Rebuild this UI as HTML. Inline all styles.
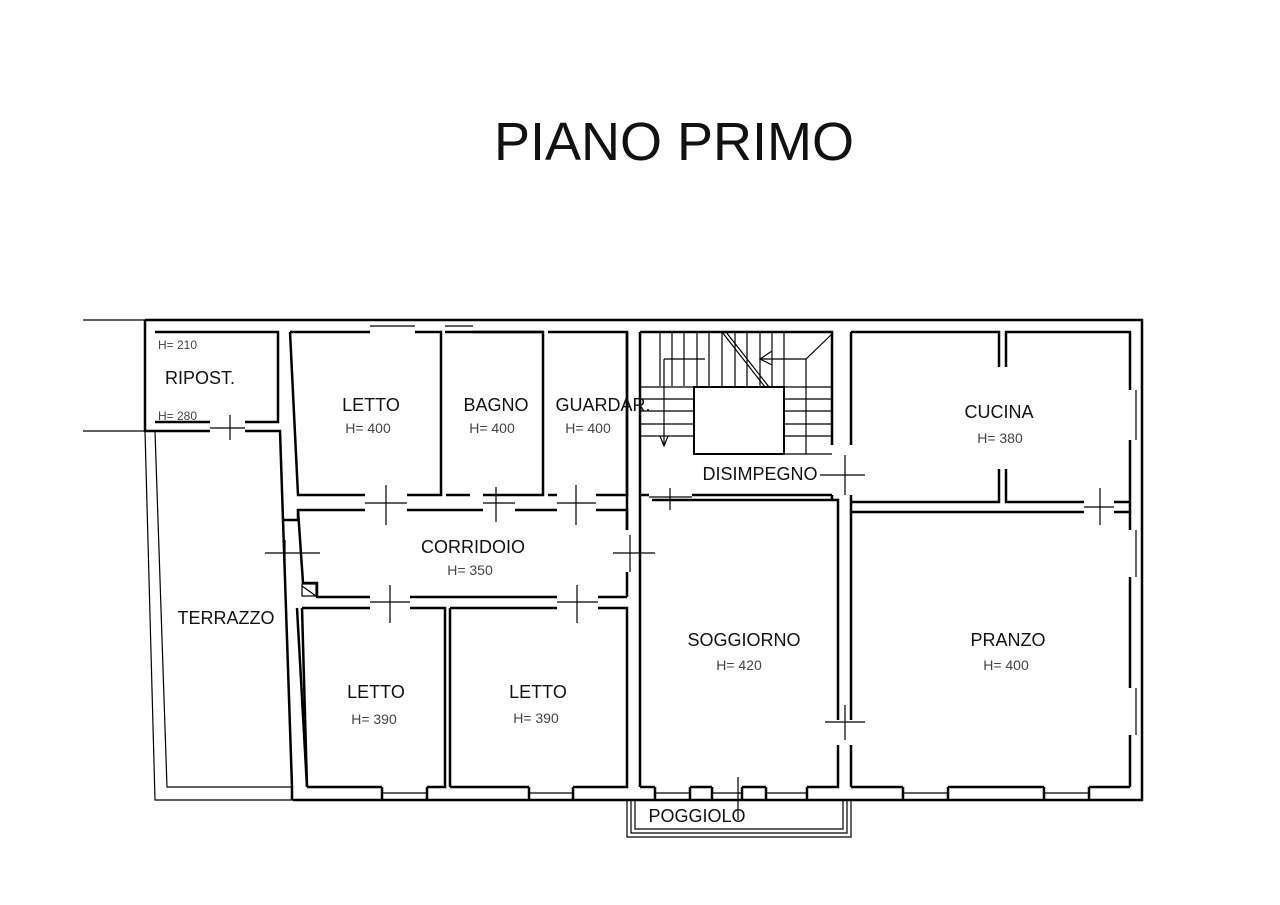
<!DOCTYPE html>
<html><head><meta charset="utf-8"><style>
html,body{margin:0;padding:0;background:#fff;width:1280px;height:905px;overflow:hidden}
svg{display:block}
text{font-family:"Liberation Sans",sans-serif;fill:#111}
.r{font-size:18px}
.h{font-size:14px;fill:#444}
</style></head><body>
<svg width="1280" height="905" viewBox="0 0 1280 905" xmlns="http://www.w3.org/2000/svg">
<text x="674" y="160" text-anchor="middle" style="font-size:54px">PIANO PRIMO</text>
<g stroke="#000" stroke-width="2.5" fill="none">
<path d="M145,320 H1142 V800 H293"/>
<path d="M83,320 H145 M83,431 H145" stroke-width="1.2"/>
<path d="M145,320 V431 H210 M245,431 H280 L283,520"/>
<path d="M155,332 H278 V422 H245 M210,422 H155 Z"/>
<path d="M290,332 H370 M415,332 H441 V495 H407 M365,495 H298 L290,332"/>
<path d="M446,332 H543 V495 H483 M470,495 H446 Z"/>
<path d="M473,332 H543 M446,332 H445"/>
<path d="M548,332 H627 V495 H596 M557,495 H548 Z"/>
<path d="M283,520 H298 V510 H365 M407,510 H483 M515,510 H557 M596,510 H627 V530 M627,572 V597"/>
<path d="M298,510 L303,583 H317 V597 H370 M410,597 H557 M598,597 H627"/>
<path d="M283,520 L292,787 V800 M297,608 L307,787"/>
<path d="M302,608 H370 M410,608 H445 V787 H427 M382,787 H307 M302,608 L307,787"/>
<path d="M450,608 H557 M598,608 H627 V787 H573 M529,787 H450 Z M450,608 V787"/>
<path d="M382,787 V800 M427,787 V800 M529,787 V800 M573,787 V800"/>
<path d="M640,332 H832 V445 M832,500 V495 M640,332 V787"/>
<path d="M640,495 H649 M692,495 H832"/>
<path d="M627,332 V530"/>
<path d="M652,500 H838 V720 M838,745 V787 H807 M766,787 H742 M712,787 H690 M655,787 H640"/>
<path d="M690,787 V800 M712,787 V800 M742,787 V800 M766,787 V800 M807,787 V800 M655,787 V800"/>
<path d="M851,332 V445 M851,495 V720 M851,745 V787"/>
<path d="M851,332 H999 V367 M1006,367 V332 H1130 V390 M1130,440 V530 M1130,577 V688 M1130,735 V787 M851,502 H999 V469 M1006,469 V502 H1084 M1114,502 H1130"/>
<path d="M851,512 H1084 M1114,512 H1130"/>
<path d="M851,787 H903 M948,787 H1044 M1089,787 H1130"/>
<path d="M903,787 V800 M948,787 V800 M1044,787 V800 M1089,787 V800"/>
<rect x="694" y="387" width="90" height="67" stroke-width="2"/>
</g>
<g stroke="#000" stroke-width="1.2" fill="none">
<path d="M370,326 H415 M445,326 H473 M1136,390 V440 M1136,530 V577 M1136,688 V735 M382,793 H427 M529,793 H573 M903,793 H948 M1044,793 H1089 M655,793 H690 M712,793 H742 M766,793 H807"/>
<path d="M145,431 L155,800 H293 M155,431 L167,787 H292"/>
<path d="M627,800 V837 H851 V800 M631,800 V833 H847 V800 M635,800 V829 H843 V800"/>
<path d="M230,415 V440 M210,428 H245"/>
<path d="M386,485 V525 M365,503 H407"/>
<path d="M496,487 V522 M483,503 H515"/>
<path d="M576,485 V525 M557,503 H596"/>
<path d="M265,553 H320 M285,540 V568"/>
<path d="M613,553 H655 M630,535 V572"/>
<path d="M390,585 V623 M370,602 H410"/>
<path d="M577,585 V623 M557,602 H598"/>
<path d="M670,488 V510 M649,497 H692"/>
<path d="M820,475 H865 M845,455 V495"/>
<path d="M1100,488 V525 M1084,507 H1114"/>
<path d="M825,722 H865 M845,705 V740"/>
<path d="M738,777 V820"/>
<path d="M660,332 V386 M672,332 V386 M684,332 V386 M697,332 V387 M709,332 V387 M722,332 V387 M735,332 V387 M747,332 V387 M760,332 V387 M772,332 V387 M784,332 V387"/>
<path d="M664,359 V446 M664,359 H705 M760,359 H806 L832,334"/>
<path d="M640,387 H694 M640,399 H694 M640,411 H694 M640,424 H694 M640,436 H694"/>
<path d="M784,387 H832 M784,399 H832 M784,411 H832 M784,424 H832 M784,436 H832 M784,454 V387 M806,359 V454 M784,454 H832"/>
<path d="M660,436 L664,446 L668,436 M772,351 L760,359 L772,365"/>
<path d="M722,332 L765,387 M726,332 L769,387"/>
<rect x="302" y="584" width="14" height="12"/>
<path d="M302,586 L316,596"/>
</g>
<g>
<text class="r" x="200" y="384" text-anchor="middle">RIPOST.</text>
<text class="h" x="158" y="349" style="font-size:12px">H= 210</text>
<text class="h" x="158" y="420" style="font-size:12px">H= 280</text>
<text class="r" x="371" y="411" text-anchor="middle">LETTO</text>
<text class="h" x="368" y="433" text-anchor="middle">H= 400</text>
<text class="r" x="496" y="411" text-anchor="middle">BAGNO</text>
<text class="h" x="492" y="433" text-anchor="middle">H= 400</text>
<text class="r" x="603" y="411" text-anchor="middle">GUARDAR.</text>
<text class="h" x="588" y="433" text-anchor="middle">H= 400</text>
<text class="r" x="760" y="480" text-anchor="middle">DISIMPEGNO</text>
<text class="r" x="999" y="418" text-anchor="middle">CUCINA</text>
<text class="h" x="1000" y="443" text-anchor="middle">H= 380</text>
<text class="r" x="473" y="553" text-anchor="middle">CORRIDOIO</text>
<text class="h" x="470" y="575" text-anchor="middle">H= 350</text>
<text class="r" x="226" y="624" text-anchor="middle">TERRAZZO</text>
<text class="r" x="376" y="698" text-anchor="middle">LETTO</text>
<text class="h" x="374" y="724" text-anchor="middle">H= 390</text>
<text class="r" x="538" y="698" text-anchor="middle">LETTO</text>
<text class="h" x="536" y="723" text-anchor="middle">H= 390</text>
<text class="r" x="744" y="646" text-anchor="middle">SOGGIORNO</text>
<text class="h" x="739" y="670" text-anchor="middle">H= 420</text>
<text class="r" x="1008" y="646" text-anchor="middle">PRANZO</text>
<text class="h" x="1006" y="670" text-anchor="middle">H= 400</text>
<text class="r" x="697" y="822" text-anchor="middle">POGGIOLO</text>
</g>
</svg>
</body></html>
